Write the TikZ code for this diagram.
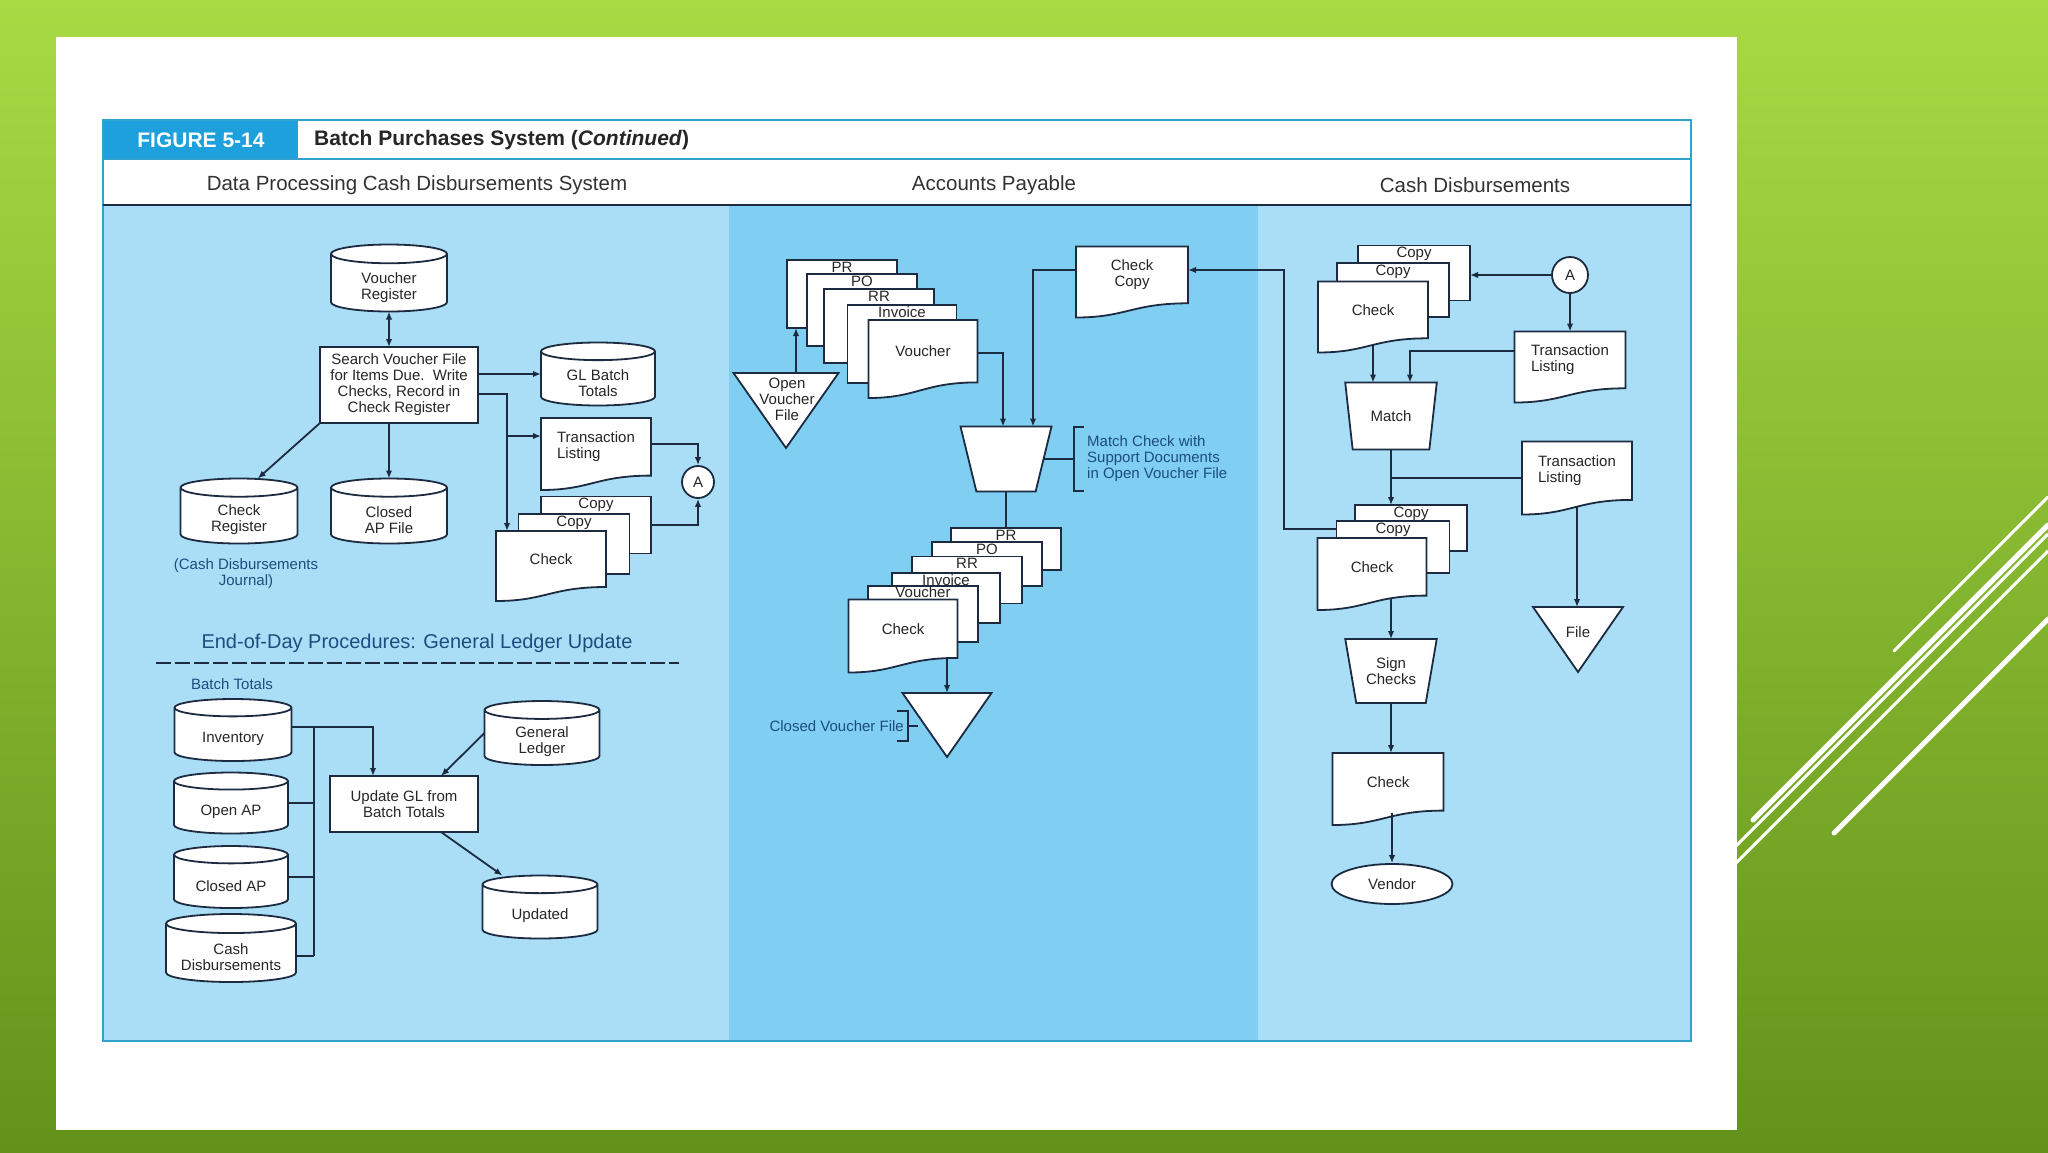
\documentclass[tikz,border=0pt]{standalone}
\usepackage{fontspec}
\setmainfont{Liberation Sans}
\usetikzlibrary{positioning,arrows.meta,shapes.geometric,calc}

\definecolor{slidetop}{HTML}{A8DA44}
\definecolor{slidebot}{HTML}{62921A}
\definecolor{figblue}{HTML}{1EA0DC}
\definecolor{figrule}{HTML}{2FA3CC}
\definecolor{lanelight}{HTML}{AADEF7}
\definecolor{lanemid}{HTML}{80CEF2}
\definecolor{ink}{HTML}{1C2B40}
\definecolor{notecol}{HTML}{1B4E7E}

\makeatletter
\newdimen\docxa \newdimen\docya \newdimen\docxb \newdimen\docyb
\newdimen\docw \newdimen\doch \newdimen\docrx \newdimen\docry
% document symbol: flat top, wavy bottom
\pgfdeclareshape{paperdoc}{%
  \inheritsavedanchors[from=rectangle]%
  \inheritanchorborder[from=rectangle]%
  \inheritanchor[from=rectangle]{center}%
  \inheritanchor[from=rectangle]{north}%
  \inheritanchor[from=rectangle]{south}%
  \inheritanchor[from=rectangle]{east}%
  \inheritanchor[from=rectangle]{west}%
  \inheritanchor[from=rectangle]{north east}%
  \inheritanchor[from=rectangle]{north west}%
  \inheritanchor[from=rectangle]{south east}%
  \inheritanchor[from=rectangle]{south west}%
  \anchor{text}{\northeast\docyb=\pgf@y\southwest
    \pgfqpoint{0pt}{\dimexpr(\docyb-\pgf@y)/10\relax}}%
  \backgroundpath{%
    \southwest\docxa=\pgf@x\docya=\pgf@y
    \northeast\docxb=\pgf@x\docyb=\pgf@y
    \docw=\docxb\advance\docw by-\docxa
    \doch=\docyb\advance\doch by-\docya
    \pgfpathmoveto{\pgfqpoint{\docxa}{\docyb}}%
    \pgfpathlineto{\pgfqpoint{\docxb}{\docyb}}%
    \pgfpathlineto{\pgfqpoint{\docxb}{\dimexpr\docya+0.2\doch\relax}}%
    \pgfpathcurveto{\pgfqpoint{\dimexpr\docxb-0.5\docw\relax}{\dimexpr\docya+0.2\doch\relax}}%
      {\pgfqpoint{\dimexpr\docxa+0.45\docw\relax}{\docya}}%
      {\pgfqpoint{\docxa}{\docya}}%
    \pgfpathclose
  }%
}
% disk file: upright cylinder, text below the lid
\pgfdeclareshape{diskstore}{%
  \inheritsavedanchors[from=rectangle]%
  \inheritanchorborder[from=rectangle]%
  \inheritanchor[from=rectangle]{center}%
  \inheritanchor[from=rectangle]{north}%
  \inheritanchor[from=rectangle]{south}%
  \inheritanchor[from=rectangle]{east}%
  \inheritanchor[from=rectangle]{west}%
  \inheritanchor[from=rectangle]{north east}%
  \inheritanchor[from=rectangle]{north west}%
  \inheritanchor[from=rectangle]{south east}%
  \inheritanchor[from=rectangle]{south west}%
  \anchor{text}{\northeast\docyb=\pgf@y\southwest
    \pgfqpoint{0pt}{\dimexpr(\pgf@y-\docyb)*14/100\relax}}%
  \backgroundpath{%
    \southwest\docxa=\pgf@x\docya=\pgf@y
    \northeast\docxb=\pgf@x\docyb=\pgf@y
    \docw=\docxb\advance\docw by-\docxa
    \doch=\docyb\advance\doch by-\docya
    \docrx=0.5\docw \docry=0.14\doch
    \pgfpathmoveto{\pgfqpoint{\docxa}{\dimexpr\docyb-\docry\relax}}%
    \pgfpathlineto{\pgfqpoint{\docxa}{\dimexpr\docya+\docry\relax}}%
    \pgfpatharc{180}{360}{\docrx and \docry}%
    \pgfpathlineto{\pgfqpoint{\docxb}{\dimexpr\docyb-\docry\relax}}%
    \pgfpatharc{0}{180}{\docrx and \docry}%
    \pgfpathclose
    \pgfpathmoveto{\pgfqpoint{\docxa}{\dimexpr\docyb-\docry\relax}}%
    \pgfpatharc{180}{360}{\docrx and \docry}%
  }%
}
\makeatother

\begin{document}
\begin{tikzpicture}[x=1pt, y=-1pt,
  every node/.style={font=\fontsize{15}{16}\selectfont, align=center, text=black!85, inner sep=1pt},
  base/.style={draw=ink, line width=1.8pt, fill=white},
  doc/.style={base, shape=paperdoc, outer sep=0pt, inner sep=0pt},
  backdoc/.style={base, rectangle, outer sep=0pt, inner sep=0pt},
  disk/.style={base, shape=diskstore, outer sep=0pt, inner sep=0pt},
  proc/.style={base, rectangle, outer sep=0pt},
  manual/.style={base, trapezium, shape border rotate=180, trapezium angle=75,
                 trapezium stretches=true, outer sep=0pt, inner sep=3pt},
  store/.style={base, isosceles triangle, shape border rotate=-90,
                isosceles triangle stretches=true, outer sep=0pt, inner sep=3pt},
  conn/.style={base, circle, minimum size=32pt, inner sep=0pt},
  term/.style={base, ellipse, inner sep=0pt},
  tag/.style={inner sep=0.5pt, font=\fontsize{15}{16}\selectfont},
  lbl/.style={inner sep=0pt},
  note/.style={text=notecol, font=\fontsize{15}{16}\selectfont},
  remark/.style={text=notecol, font=\fontsize{15}{16}\selectfont, inner sep=0pt},
  colhead/.style={text=black!80, font=\fontsize{20.5}{22}\selectfont},
  line/.style={draw=ink, line width=1.8pt},
  arr/.style={line, -{Latex[length=8pt,width=6.5pt]}},
  dbl/.style={line, {Latex[length=8pt,width=6.5pt]}-{Latex[length=8pt,width=6.5pt]}}
]
\useasboundingbox (0,0) rectangle (2048,1152);
% slide
\shade[top color=slidetop, bottom color=slidebot] (0,0) rectangle (2048,1152);
\draw[white, line width=3pt, line cap=round] (1894,651) -- (2048,497);
\draw[white, line width=5pt, line cap=round] (1753,820) -- (2048,525);
\draw[white, line width=3pt] (1710,872) -- (2048,534);
\draw[white, line width=3pt] (1710,889) -- (2048,551);
\draw[white, line width=5pt, line cap=round] (1834,833) -- (2048,619);
\fill[white] (56,37) rectangle (1737,1130);

% figure frame and lanes
\fill[white] (103,120) rectangle (1691,205);
\fill[figblue] (103,120) rectangle (298,159);
\fill[lanelight] (103,205) rectangle (729,1041);
\fill[lanemid] (729,205) rectangle (1258,1041);
\fill[lanelight] (1258,205) rectangle (1691,1041);
\draw[figrule, line width=1.5pt] (103,120) rectangle (1691,1041);
\draw[figrule, line width=1.5pt] (103,159) -- (1691,159);
\draw[ink, line width=1.5pt] (103,205) -- (1691,205);
\node[text=white, font=\fontsize{21}{23}\selectfont\bfseries] (fignum) at (201,140) {FIGURE 5-14};
\node[anchor=west, text=black!85, font=\fontsize{21}{23}\selectfont\bfseries] (figtitle) at (313,140) {Batch Purchases System (\textit{Continued})};
\node[colhead] (hdp) at (417,185) {Data Processing Cash Disbursements System};
\node[colhead] (hap) at (994,185) {Accounts Payable};
\node[colhead] (hcd) at (1475,185) {Cash Disbursements};

% data processing lane
\node[disk, minimum width=116pt, minimum height=67pt] (vreg) at (389,278) {Voucher\\Register};
\node[proc, minimum width=158pt, minimum height=76pt] (search) at (399,385) {Search Voucher File\\for Items Due.\ \ Write\\Checks, Record in\\Check Register};
\node[disk, minimum width=114pt, minimum height=63pt] (glbt) at (598,374) {GL Batch\\Totals};
\node[doc, minimum width=110pt, minimum height=72pt, align=left] (tl1) at (596,454) {Transaction\\Listing};
\node[backdoc, minimum width=110pt, minimum height=57pt] (cp1a) at (596,525) {};
\node[tag, below=1pt of cp1a.north] (cp1at) {Copy};
\node[backdoc, minimum width=111pt, minimum height=60pt] (cp1b) at (574,544) {};
\node[tag, below=1pt of cp1b.north] (cp1bt) {Copy};
\node[doc, minimum width=110pt, minimum height=70pt] (chk1) at (551,566) {Check};
\node[conn] (a1) at (698,482) {A};
\node[disk, minimum width=117pt, minimum height=65pt] (creg) at (239,511) {Check\\Register};
\node[disk, minimum width=116pt, minimum height=65pt] (cap) at (389,511) {Closed\\AP File};
\node[note] (jrnl) at (246,574) {(Cash Disbursements\\Journal)};

\draw[dbl] (vreg.south) -- (vreg.south |- search.north);
\draw[arr] (search.east |- glbt.west) -- (glbt.west);
\coordinate (sj) at (507,436);
\draw[arr] ([yshift=-9pt]search.east) -| (sj) -- (chk1.north -| sj);
\draw[arr] (sj) -- (sj -| tl1.west);
\draw[arr] ([yshift=10pt]tl1.east) -| (a1.north);
\draw[arr] (cp1a.east) -| (a1.south);
\draw[arr] (search.south west) -- (creg.60);
\draw[arr] (cap.north |- search.south) -- (cap.north);

% end-of-day general ledger update
\node[text=notecol, font=\fontsize{20}{22}\selectfont] (eod) at (417,643) {End-of-Day Procedures: General Ledger Update};
\draw[line, dash pattern=on 15pt off 4pt] (156,663) -- (679,663);
\node[note] (btot) at (232,684) {Batch Totals};
\node[disk, minimum width=117pt, minimum height=62pt] (binv) at (233,730) {Inventory};
\node[disk, minimum width=114pt, minimum height=61pt] (oap) at (231,803) {Open AP};
\node[disk, minimum width=114pt, minimum height=62pt] (clap) at (231,877) {Closed AP};
\node[disk, minimum width=130pt, minimum height=68pt] (cdisb) at (231,948) {Cash\\Disbursements};
\node[proc, minimum width=148pt, minimum height=56pt] (upd) at (404,804) {Update GL from\\Batch Totals};
\node[disk, minimum width=115pt, minimum height=64pt] (gl) at (542,733) {General\\Ledger};
\node[disk, minimum width=115pt, minimum height=63pt] (updd) at (540,907) {Updated};

\coordinate (bus) at (314,727);
\draw[line] (bus) -- ([yshift=-8pt]cdisb.east -| bus);
\draw[arr] (bus -| binv.east) -| ([xshift=-31pt]upd.north);
\draw[line] (oap.east) -- (oap.east -| bus);
\draw[line] (clap.east) -- (clap.east -| bus);
\draw[line] ([yshift=-8pt]cdisb.east) -- ([yshift=-8pt]cdisb.east -| bus);
\draw[arr] (gl.west) -- ([xshift=37pt]upd.north);
\draw[arr] ([xshift=37pt]upd.south) -- (updd.140);

% accounts payable lane
\node[backdoc, minimum width=110pt, minimum height=68pt] (pr1) at (842,294) {};
\node[tag, below=1pt of pr1.north] (pr1t) {PR};
\node[backdoc, minimum width=110pt, minimum height=72pt] (po1) at (862,310) {};
\node[tag, below=1pt of po1.north] (po1t) {PO};
\node[backdoc, minimum width=110pt, minimum height=74pt] (rr1) at (879,326) {};
\node[tag, below=1pt of rr1.north] (rr1t) {RR};
\node[backdoc, minimum width=109pt, minimum height=78pt] (inv1) at (902,344) {};
\node[tag, below=1pt of inv1.north] (inv1t) {Invoice};
\node[doc, minimum width=109pt, minimum height=78pt] (vou1) at (923,359) {Voucher};
\node[store, minimum width=105pt, minimum height=75pt, anchor=north] (ovf) at (786,373) {};
\node[lbl] (ovft) at (787,399) {Open\\Voucher\\File};
\node[doc, minimum width=112pt, minimum height=71pt] (ckc) at (1132,282) {Check\\Copy};
\node[manual, minimum width=91pt, minimum height=65pt] (mt1) at (1006,459) {};
\node[remark, anchor=west, align=left] (mnote) at (1087,459) {Match Check with\\Support Documents\\in Open Voucher File};

\node[backdoc, minimum width=110pt, minimum height=42pt] (pr2) at (1006,549) {};
\node[tag, below=1pt of pr2.north] (pr2t) {PR};
\node[backdoc, minimum width=110pt, minimum height=44pt] (po2) at (987,564) {};
\node[tag, below=1pt of po2.north] (po2t) {PO};
\node[backdoc, minimum width=110pt, minimum height=47pt] (rr2) at (967,580) {};
\node[tag, below=1pt of rr2.north] (rr2t) {RR};
\node[backdoc, minimum width=108pt, minimum height=50pt] (inv2) at (946,598) {};
\node[tag, below=1pt of inv2.north] (inv2t) {Invoice};
\node[backdoc, minimum width=110pt, minimum height=56pt] (vou2) at (923,614) {};
\node[tag, below=0pt of vou2.north] (vou2t) {Voucher};
\node[doc, minimum width=109pt, minimum height=73pt] (chk2) at (903,636) {Check};
\node[store, minimum width=89pt, minimum height=64pt, anchor=north] (cvf) at (947,693) {};
\node[remark, anchor=east] (cvnote) at (904,726) {Closed Voucher File};

\draw[arr] ($(ovf.north)+(10,0)$) -- ($(ovf.north |- pr1.south)+(10,0)$);
\draw[arr] ([yshift=6pt]vou1.east) -| ([xshift=-3pt]mt1.north);
\draw[arr] ([yshift=12pt]ckc.west) -| ([xshift=27pt]mt1.north);
\coordinate (mbr) at (1074,459);
\draw[line] (mt1.east) -- (mbr);
\draw[line] ([xshift=10pt,yshift=32pt]mbr) -- ([yshift=32pt]mbr) -- ([yshift=-32pt]mbr) -- ([xshift=10pt,yshift=-32pt]mbr);
\draw[line] (mt1.south) -- (pr2.north);
\draw[arr] ($(chk2.south -| cvf.north)+(0,-14)$) -- (cvf.north);
\coordinate (cvbr) at (908,726);
\draw[line] (cvbr) -- (cvbr -| cvf.west);
\draw[line] ([xshift=-11pt,yshift=15pt]cvbr) -- ([yshift=15pt]cvbr) -- ([yshift=-15pt]cvbr) -- ([xshift=-11pt,yshift=-15pt]cvbr);

% cash disbursements lane
\node[backdoc, minimum width=112pt, minimum height=55pt] (cp2a) at (1414,273) {};
\node[tag, below=1pt of cp2a.north] (cp2at) {Copy};
\node[backdoc, minimum width=112pt, minimum height=54pt] (cp2b) at (1393,290) {};
\node[tag, below=1pt of cp2b.north] (cp2bt) {Copy};
\node[doc, minimum width=110pt, minimum height=71pt] (chk3) at (1373,317) {Check};
\node[conn, minimum size=36pt] (a2) at (1570,275) {A};
\node[doc, minimum width=111pt, minimum height=71pt, align=left] (tl2) at (1570,367) {Transaction\\Listing};
\node[manual, minimum width=92pt, minimum height=67pt] (mt2) at (1391,416) {Match};
\node[doc, minimum width=110pt, minimum height=73pt, align=left] (tl3) at (1577,478) {Transaction\\Listing};
\node[backdoc, minimum width=112pt, minimum height=46pt] (cp3a) at (1411,528) {};
\node[tag, below=1pt of cp3a.north] (cp3at) {Copy};
\node[backdoc, minimum width=113pt, minimum height=52pt] (cp3b) at (1393,547) {};
\node[tag, below=1pt of cp3b.north] (cp3bt) {Copy};
\node[doc, minimum width=109pt, minimum height=72pt] (chk4) at (1372,574) {Check};
\node[manual, minimum width=92pt, minimum height=64pt] (sgn) at (1391,671) {Sign\\Checks};
\node[doc, minimum width=111pt, minimum height=72pt] (chk5) at (1388,789) {Check};
\node[term, minimum width=121pt, minimum height=40pt] (vnd) at (1392,884) {Vendor};
\node[store, minimum width=90pt, minimum height=65pt, anchor=north] (fil) at (1578,607) {};
\node[lbl] (filt) at (1578,632) {File};

\draw[arr] (a2.west) -- (a2.west -| cp2a.east);
\draw[arr] (a2.south) -- (tl2.north);
\draw[arr] ([yshift=8pt]chk3.south) -- (chk3.south |- mt2.north);
\draw[arr] ([yshift=16pt]tl2.west) -| ([xshift=19pt]mt2.north);
\draw[line] (tl3.west) -- (tl3.west -| mt2.south);
\draw[arr] (mt2.south) -- (mt2.south |- cp3a.north);
\draw[arr] ([yshift=8pt]tl3.south) -- (tl3.south |- fil.north);
\draw[arr] ($(chk4.south -| sgn.north)+(0,-11)$) -- (sgn.north);
\draw[arr] (sgn.south) -- (sgn.south |- chk5.north);
\draw[arr] ($(chk5.south -| vnd.north)+(0,-12)$) -- (vnd.north);
\coordinate (ret) at (1284,400);
\draw[arr] ([yshift=18pt]cp3b.west) -| (ret) |- ([yshift=12pt]ckc.east);
\end{tikzpicture}
\end{document}
